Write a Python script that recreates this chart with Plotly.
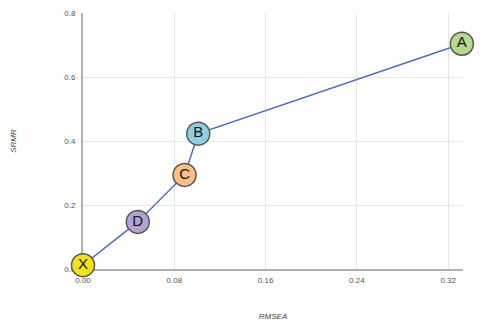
import plotly.graph_objects as go

labels = ["X", "D", "C", "B", "A"]
rmsea = [0.0, 0.048, 0.089, 0.101, 0.332]
srmr = [0.012, 0.147, 0.294, 0.423, 0.704]
colors = ["#f2e21c", "#b3a2d2", "#f8bf88", "#8ecfe2", "#b6d98e"]

x_ticks = [0.0, 0.08, 0.16, 0.24, 0.32]
y_ticks = [0.0, 0.2, 0.4, 0.6, 0.8]

fig = go.Figure()
fig.add_trace(go.Scatter(
    x=rmsea, y=srmr, mode="lines",
    line=dict(color="#4f6fb8", width=1.5),
    hoverinfo="skip", cliponaxis=False,
))
fig.add_trace(go.Scatter(
    x=rmsea, y=srmr, mode="markers+text",
    text=labels, textposition="middle center",
    textfont=dict(family="Liberation Sans, Arial", size=15, color="#111111"),
    marker=dict(size=23, color=colors, line=dict(color="#555555", width=1.5)),
    cliponaxis=False,
))

fig.update_layout(
    width=487, height=329,
    margin=dict(l=83, r=24, t=9, b=58),
    paper_bgcolor="white", plot_bgcolor="white",
    showlegend=False,
    font=dict(family="Liberation Sans, Arial", size=8, color="#555555"),
    xaxis=dict(
        range=[0, 0.333], tickvals=x_ticks, tickformat=".2f",
        showgrid=True, gridcolor="#e6e6e6", gridwidth=1,
        showline=True, linecolor="#b0b0b0", linewidth=2,
        zeroline=False, ticks="", ticklen=0, layer="below traces",
        ticklabelstandoff=2,
        tickfont=dict(color="#555555"),
        title=dict(text="<i>RMSEA</i>", font=dict(size=8, color="#444444"), standoff=30),
    ),
    yaxis=dict(
        range=[0, 0.8], tickvals=y_ticks, tickformat=".1f",
        showgrid=True, gridcolor="#e6e6e6", gridwidth=1,
        showline=True, linecolor="#b0b0b0", linewidth=2,
        zeroline=False, ticks="", layer="below traces",
        ticklabelstandoff=4,
        tickfont=dict(color="#555555"),
        title=dict(text="<i>SRMR</i>", font=dict(size=8, color="#444444"), standoff=46),
    ),
)

fig.write_html("out.html")
